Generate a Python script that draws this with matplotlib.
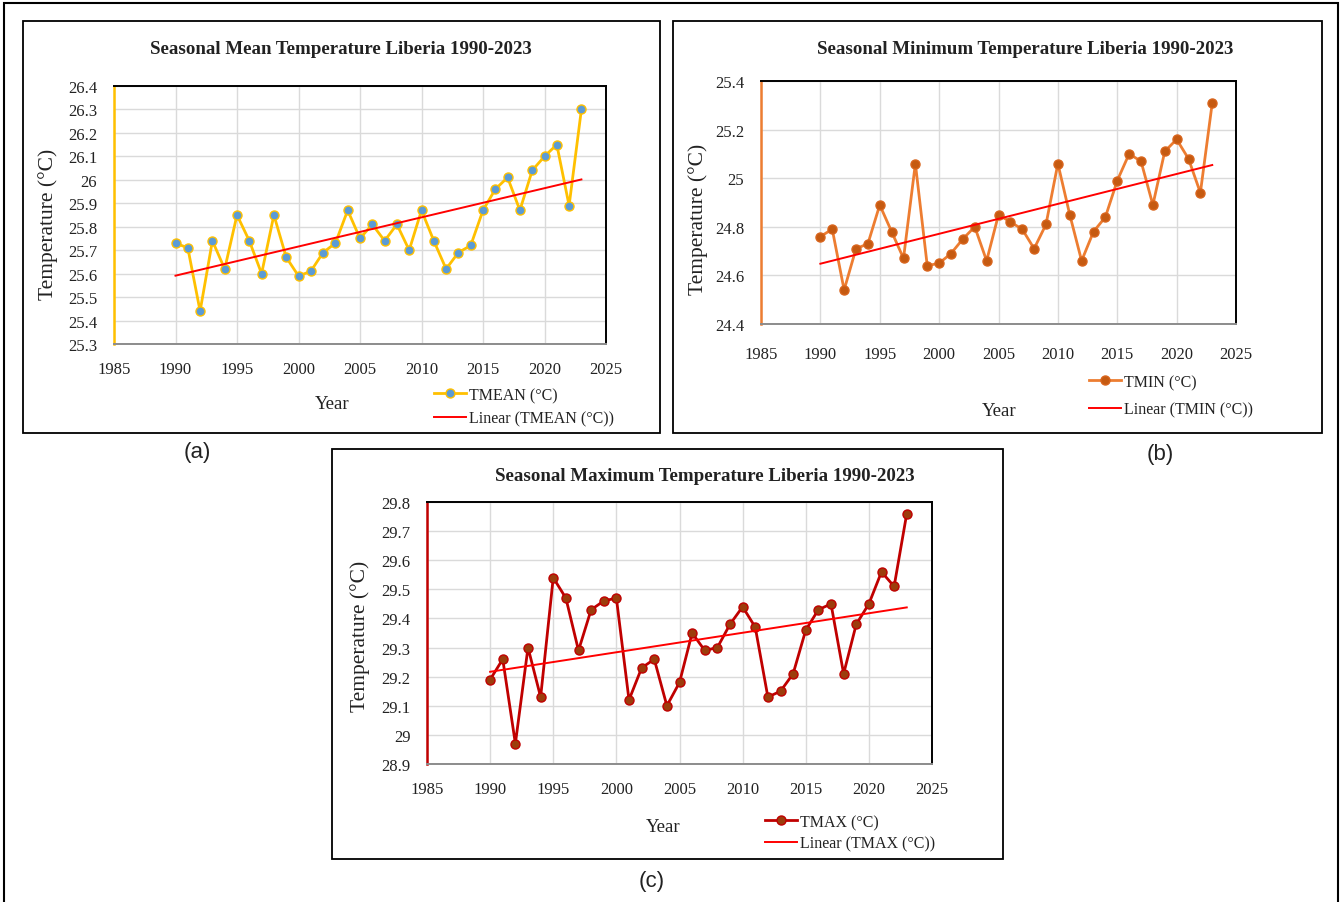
import matplotlib
matplotlib.use('Agg')
import matplotlib.pyplot as plt
import numpy as np
from matplotlib.patches import Rectangle
from matplotlib.lines import Line2D
from matplotlib.ticker import FuncFormatter

W, H = 1340, 903

years = np.arange(1990, 2024)

tmean = [25.73, 25.71, 25.44, 25.74, 25.62, 25.85, 25.74, 25.60, 25.85, 25.67,
         25.59, 25.61, 25.69, 25.73, 25.87, 25.75, 25.81, 25.74, 25.81, 25.70,
         25.87, 25.74, 25.62, 25.69, 25.72, 25.87, 25.96, 26.01, 25.87, 26.04,
         26.10, 26.15, 25.89, 26.30]

tmin = [24.76, 24.79, 24.54, 24.71, 24.73, 24.89, 24.78, 24.67, 25.06, 24.64,
        24.65, 24.69, 24.75, 24.80, 24.66, 24.85, 24.82, 24.79, 24.71, 24.81,
        25.06, 24.85, 24.66, 24.78, 24.84, 24.99, 25.10, 25.07, 24.89, 25.11,
        25.16, 25.08, 24.94, 25.31]

tmax = [29.19, 29.26, 28.97, 29.30, 29.13, 29.54, 29.47, 29.29, 29.43, 29.46,
        29.47, 29.12, 29.23, 29.26, 29.10, 29.18, 29.35, 29.29, 29.30, 29.38,
        29.44, 29.37, 29.13, 29.15, 29.21, 29.36, 29.43, 29.45, 29.21, 29.38,
        29.45, 29.56, 29.51, 29.76]

plt.rcParams['font.family'] = ['Liberation Serif', 'DejaVu Serif']


def rect(x0, y0, x1, y1):
    # pixel box (top-left origin) -> figure fraction [l, b, w, h]
    return [x0 / W, 1 - y1 / H, (x1 - x0) / W, (y1 - y0) / H]


def box(fig, x0, y0, x1, y1, lw=1.3):
    fig.patches.append(Rectangle((x0 / W, 1 - y1 / H), (x1 - x0) / W, (y1 - y0) / H,
                                 transform=fig.transFigure, fill=False,
                                 edgecolor='black', linewidth=lw))


def panel(fig, axbox, values, ylim, ystep, line_c, face_c, edge_c, name, title,
          title_xy, ylab_xy, year_xy, leg_xy, leg_gap, xpad, ypad):
    ax = fig.add_axes(rect(*axbox))
    ax.plot(years, values, color=line_c, lw=2.0, marker='o', ms=6.5,
            mfc=face_c, mec=edge_c, mew=1.0, zorder=3)
    k, b = np.polyfit(years, values, 1)
    ax.plot([1990, 2023], [k * 1990 + b, k * 2023 + b], color='#FF0000', lw=1.4, zorder=4)

    ax.set_xlim(1985, 2025)
    ax.set_xticks(np.arange(1985, 2026, 5))
    ax.set_ylim(*ylim)
    ax.set_yticks(np.round(np.arange(ylim[0], ylim[1] + ystep / 2, ystep), 2))
    ax.yaxis.set_major_formatter(FuncFormatter(lambda v, p: '%g' % round(v, 2)))
    ax.grid(True, color='#DADADA', lw=1.0)
    ax.set_axisbelow(True)
    ax.tick_params(length=0, labelsize=12, colors='#222222')
    ax.tick_params(axis='x', pad=xpad)
    ax.tick_params(axis='y', pad=ypad)
    ax.spines['left'].set_color(line_c)
    ax.spines['left'].set_linewidth(1.8)
    for s in ['top', 'right']:
        ax.spines[s].set_color('black')
        ax.spines[s].set_linewidth(1.4)
    ax.spines['bottom'].set_color('#8C8C8C')
    ax.spines['bottom'].set_linewidth(1.4)

    fig.text(title_xy[0] / W, 1 - title_xy[1] / H, title, ha='center', va='center',
             fontsize=13.6, fontweight='bold', color='#222222')
    fig.text(ylab_xy[0] / W, 1 - ylab_xy[1] / H, 'Temperature (°C)', rotation=90,
             ha='center', va='center', fontsize=15.5, color='#222222')
    fig.text(year_xy[0] / W, 1 - year_xy[1] / H, 'Year', ha='center', va='center',
             fontsize=13.5, color='#222222')

    handles = [Line2D([], [], color=line_c, lw=2.0, marker='o', ms=6.5,
                      mfc=face_c, mec=edge_c, mew=1.0),
               Line2D([], [], color='#FF0000', lw=1.4)]
    fig.legend(handles, [name + ' (°C)', 'Linear (' + name + ' (°C))'],
               loc='upper left', bbox_to_anchor=(leg_xy[0] / W, 1 - leg_xy[1] / H),
               frameon=False, fontsize=11.5, handlelength=2.0, handletextpad=0.2,
               labelspacing=leg_gap, borderpad=0, borderaxespad=0,
               labelcolor='#222222')
    return ax


fig = plt.figure(figsize=(W / 100, H / 100), dpi=100)

# outer frame and panel frames
box(fig, 4, 4, 1338, 910, lw=1.5)
box(fig, 23, 22, 660, 434)
box(fig, 673, 22, 1322, 434)
box(fig, 332, 450, 1003, 860)

panel(fig, (114, 87, 606, 345), tmean, (25.3, 26.4), 0.1,
      '#FFC000', '#5B9BD5', '#FFC000', 'TMEAN',
      'Seasonal Mean Temperature Liberia 1990-2023',
      (341, 50), (48, 224), (332, 405), (434, 388), 0.45, 12, 12)

panel(fig, (761, 82, 1236, 325), tmin, (24.4, 25.4), 0.2,
      '#ED7D31', '#C55A11', '#D8641C', 'TMIN',
      'Seasonal Minimum Temperature Liberia 1990-2023',
      (1025, 50), (698, 219), (999, 412), (1089, 375), 0.7, 16, 12)

panel(fig, (427, 503, 932, 765), tmax, (28.9, 29.8), 0.1,
      '#C00000', '#9C3D0C', '#C00000', 'TMAX',
      'Seasonal Maximum Temperature Liberia 1990-2023',
      (705, 477), (360, 636), (663, 828), (765, 815), 0.35, 12, 12)

for lab, x, y in [('(a)', 197, 453), ('(b)', 1160, 455), ('(c)', 652, 882)]:
    fig.text(x / W, 1 - y / H, lab, ha='center', va='center', fontsize=16,
             family=['Liberation Sans', 'DejaVu Sans'], color='#222222')

fig.savefig('out.png', dpi=100, facecolor='white')
